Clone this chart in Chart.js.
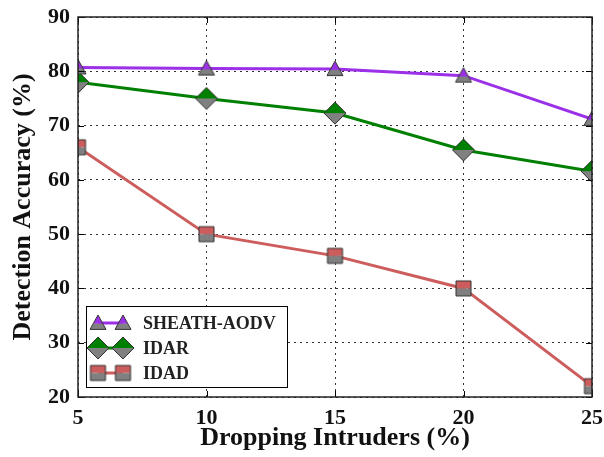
<!DOCTYPE html>
<html>
<head>
<meta charset="utf-8">
<script src="https://cdn.jsdelivr.net/npm/chart.js@4"></script>
<style>
  html, body { margin: 0; padding: 0; background: #fff; }
  #wrap { width: 604px; height: 457px; }
</style>
</head>
<body>
<div id="wrap"><canvas id="accuracyChart" width="604" height="457"></canvas></div>
<script>
// x positions (dropping intruders, %)
const intruders = [5, 10, 15, 20, 25];
const yTicks = [20, 30, 40, 50, 60, 70, 80, 90];

// detection accuracy (%) per scheme
const sheathAodv = [80.7, 80.5, 80.4, 79.2, 71.2];
const idar = [78.0, 75.0, 72.3, 65.5, 61.6];
const idad = [66.0, 50.0, 46.0, 40.0, 22.0];

const FONT = '"Liberation Serif", "DejaVu Serif", serif';
const GRAY = '#808080';

// half-filled marker: top half coloured, bottom half gray
function makeMarker(shape, color, size) {
  const pad = 2;
  const c = document.createElement('canvas');
  c.width = c.height = size + pad * 2;
  const ctx = c.getContext('2d');
  const m = c.width / 2, h = size / 2;
  const path = () => {
    ctx.beginPath();
    if (shape === 'triangle') {
      ctx.moveTo(m, m - h);
      ctx.lineTo(m + h, m + h * 0.8);
      ctx.lineTo(m - h, m + h * 0.8);
    } else if (shape === 'diamond') {
      ctx.moveTo(m, m - h);
      ctx.lineTo(m + h, m);
      ctx.lineTo(m, m + h);
      ctx.lineTo(m - h, m);
    } else {
      ctx.rect(m - h, m - h, size, size);
    }
    ctx.closePath();
  };
  const splitY = shape === 'triangle' ? m + h * 0.1 : m;
  ctx.save();
  path();
  ctx.clip();
  ctx.fillStyle = color;
  ctx.fillRect(0, 0, c.width, splitY);
  ctx.fillStyle = GRAY;
  ctx.fillRect(0, splitY, c.width, c.height);
  ctx.restore();
  path();
  ctx.lineWidth = 1;
  ctx.strokeStyle = '#333';
  ctx.stroke();
  return c;
}

const series = [
  { label: 'SHEATH-AODV', values: sheathAodv, color: '#9b30e8', marker: makeMarker('triangle', '#9b30e8', 16) },
  { label: 'IDAR', values: idar, color: '#008000', marker: makeMarker('diamond', '#008000', 22) },
  { label: 'IDAD', values: idad, color: '#cd5c5c', marker: makeMarker('square', '#cd5c5c', 15) }
];

// frame, inward tick marks and the boxed legend
const framePlugin = {
  id: 'frame',
  afterDatasetsDraw(chart) {
    const { ctx, chartArea: a, scales } = chart;
    ctx.save();
    ctx.strokeStyle = '#000';
    ctx.lineWidth = 1;
    intruders.forEach(v => {
      const x = Math.round(scales.x.getPixelForValue(v)) + 0.5;
      ctx.beginPath();
      ctx.moveTo(x, a.bottom); ctx.lineTo(x, a.bottom - 6);
      ctx.moveTo(x, a.top); ctx.lineTo(x, a.top + 6);
      ctx.stroke();
    });
    yTicks.forEach(v => {
      const y = Math.round(scales.y.getPixelForValue(v)) + 0.5;
      ctx.beginPath();
      ctx.moveTo(a.left, y); ctx.lineTo(a.left + 6, y);
      ctx.moveTo(a.right, y); ctx.lineTo(a.right - 6, y);
      ctx.stroke();
    });
    ctx.lineWidth = 1.5;
    ctx.strokeStyle = '#222';
    ctx.strokeRect(a.left, a.top, a.right - a.left, a.bottom - a.top);

    // legend
    const lx = 86, ly = 306, lw = 201, lh = 81;
    ctx.fillStyle = '#fff';
    ctx.fillRect(lx, ly, lw, lh);
    ctx.lineWidth = 1;
    ctx.strokeStyle = '#000';
    ctx.strokeRect(lx + 0.5, ly + 0.5, lw, lh);
    ctx.font = 'bold 18px ' + FONT;
    ctx.textBaseline = 'middle';
    series.forEach((s, i) => {
      const y = 323 + i * 25;
      ctx.strokeStyle = s.color;
      ctx.lineWidth = 3;
      ctx.beginPath();
      ctx.moveTo(98, y); ctx.lineTo(123, y);
      ctx.stroke();
      [98, 123].forEach(x => {
        ctx.drawImage(s.marker, x - s.marker.width / 2, y - s.marker.height / 2);
      });
      ctx.fillStyle = '#222';
      ctx.fillText(s.label, 143, y + 1);
    });
    ctx.restore();
  }
};

new Chart(document.getElementById('accuracyChart'), {
  type: 'line',
  data: {
    datasets: series.map(s => ({
      label: s.label,
      data: intruders.map((x, i) => ({ x: x, y: s.values[i] })),
      borderColor: s.color,
      borderWidth: 3,
      pointStyle: s.marker,
      pointRadius: 8,
      pointHoverRadius: 8,
      tension: 0
    }))
  },
  options: {
    responsive: false,
    animation: false,
    layout: { padding: { top: 17, right: 12, left: 0, bottom: 0 } },
    plugins: { legend: { display: false }, tooltip: { enabled: false } },
    scales: {
      x: {
        type: 'linear',
        min: 5, max: 25,
        afterFit(scale) {
          scale.height = 60;
          scale.paddingLeft = 0;
          scale.paddingRight = 0;
        },
        afterBuildTicks(scale) { scale.ticks = intruders.map(v => ({ value: v })); },
        ticks: { color: '#111', font: { family: FONT, size: 22, weight: 'bold' }, padding: 8 },
        grid: { color: '#333', lineWidth: 1, drawTicks: false },
        border: { display: false, dash: [2, 4] },
        title: { display: true, text: 'Dropping Intruders (%)', color: '#111', font: { family: FONT, size: 26, weight: 'bold' }, padding: { top: 2, bottom: 3 } }
      },
      y: {
        type: 'linear',
        min: 20, max: 90,
        afterFit(scale) {
          scale.width = 78;
          scale.paddingTop = 0;
          scale.paddingBottom = 0;
        },
        afterBuildTicks(scale) { scale.ticks = yTicks.map(v => ({ value: v })); },
        ticks: { color: '#111', font: { family: FONT, size: 22, weight: 'bold' }, padding: 8 },
        grid: { color: '#333', lineWidth: 1, drawTicks: false },
        border: { display: false, dash: [2, 4] },
        title: { display: true, text: 'Detection Accuracy (%)', color: '#111', font: { family: FONT, size: 26, weight: 'bold' }, padding: { top: 8, bottom: 0 } }
      }
    }
  },
  plugins: [framePlugin]
});
</script>
</body>
</html>
